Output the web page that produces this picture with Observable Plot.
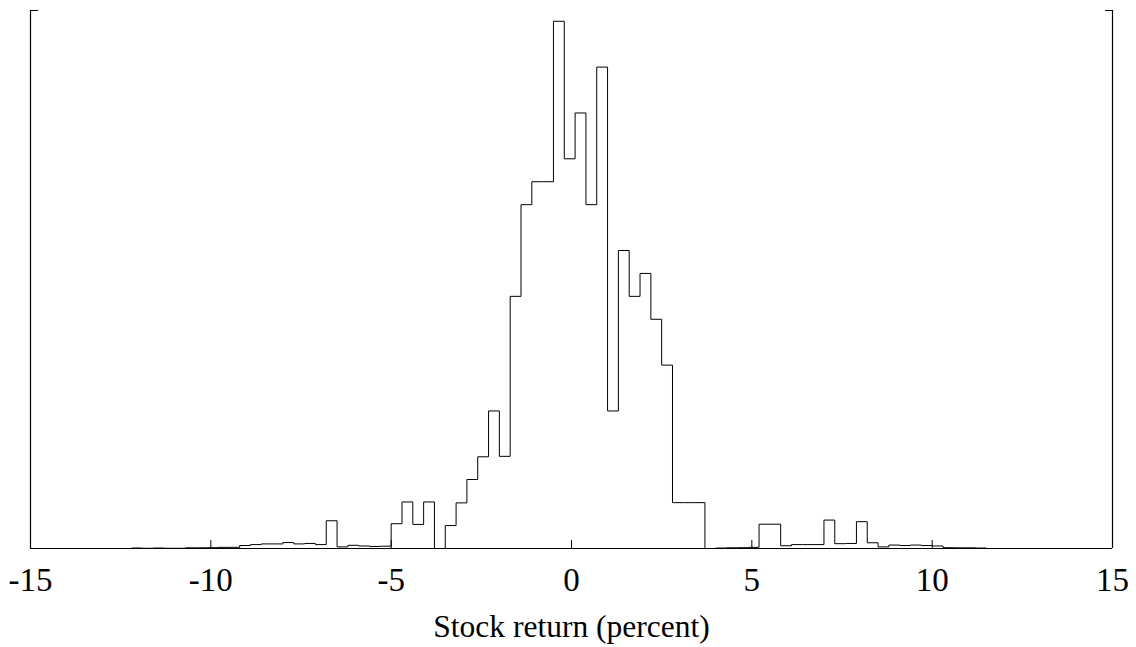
<!DOCTYPE html>
<html>
<head>
<meta charset="utf-8">
<script src="https://cdn.jsdelivr.net/npm/d3@7"></script>
<script src="https://cdn.jsdelivr.net/npm/@observablehq/plot@0.6"></script>
<style>
  html, body { margin: 0; padding: 0; background: #fff; }
  #chart svg { display: block; }
</style>
</head>
<body>
<div id="chart"></div>
<script>
// Bin left edges (last entry closes the outline)
const binEdges = [
  -12.5, -12.2, -11.9, -11.6, -11.3, -11.0, -10.7, -10.4, -10.1, -9.8, -9.5,
  -9.2, -8.9, -8.6, -8.3, -8.0, -7.7, -7.4, -7.1, -6.8, -6.5, -6.2, -5.9, -5.6, -5.3,
  -5.0, -4.7, -4.4, -4.1, -3.8, -3.5, -3.2, -2.9, -2.6, -2.3, -2.0, -1.7, -1.4, -1.1, -0.8,
  -0.5, -0.2, 0.1, 0.4, 0.7, 1.0, 1.3, 1.6, 1.9, 2.2, 2.5, 2.8, 3.1, 3.4, 3.7,
  4.0, 4.3, 4.6, 4.9, 5.2, 5.5, 5.8, 6.1, 6.4, 6.7, 7.0, 7.3, 7.6, 7.9, 8.2, 8.5,
  8.8, 9.1, 9.4, 9.7, 10.0, 10.3, 10.6, 10.9, 11.2, 11.5
];
// Bar heights (frequency)
const binHeights = [
  0, 0.02, 0.01, 0.02, 0.01, 0.01, 0.03, 0.03, 0.035, 0.05, 0.05,
  0.13, 0.17, 0.2, 0.2, 0.26, 0.2, 0.22, 0.17, 1.21, 0.07, 0.14, 0.11, 0.09, 0.1,
  1.08, 2.03, 1.05, 2.03, 0, 1.0, 1.99, 3.01, 4.0, 6.0, 4.02, 11.0, 15.0, 16.0, 16.0,
  23.0, 17.0, 19.0, 15.0, 21.0, 6.0, 13.0, 11.0, 12.0, 10.0, 8.0, 2.0, 2.0, 2.0, 0,
  0.02, 0.03, 0.035, 0.05, 1.06, 1.06, 0.12, 0.17, 0.17, 0.17, 1.24, 0.21, 0.22, 1.17, 0.25, 0.07,
  0.15, 0.13, 0.15, 0.13, 0.11, 0.035, 0.03, 0.03, 0.02, 0
];
const xTicks = [-15, -10, -5, 0, 5, 10, 15];
const xDomain = [-15, 15];
const yTop = 23.47;
const xTitle = "Stock return (percent)";

const steps = binEdges.map((x, i) => ({x, y: binHeights[i]}));

const chart = Plot.plot({
  width: 1136,
  height: 647,
  marginLeft: 30,
  marginRight: 24,
  marginTop: 10,
  marginBottom: 99,
  style: {
    fontFamily: "'Liberation Serif', 'Times New Roman', serif",
    fontSize: "33px",
    background: "white",
    color: "black",
    overflow: "visible"
  },
  x: {domain: xDomain},
  y: {domain: [0, yTop]},
  marks: [
    Plot.ruleY([0], {stroke: "black", strokeWidth: 1.2}),
    Plot.ruleX(xDomain, {y1: 0, y2: yTop, stroke: "black", strokeWidth: 1.2}),
    Plot.axisY({anchor: "left", ticks: [yTop], tickSize: 8, dx: 8, fill: "none", label: null, stroke: "black"}),
    Plot.axisY({anchor: "right", ticks: [yTop], tickSize: 8, dx: -8, fill: "none", label: null, stroke: "black"}),
    Plot.axisX({ticks: xTicks, tickSize: 8, dy: -8, fill: "none", label: null, stroke: "black"}),
    Plot.axisX({ticks: xTicks, tickSize: 0, tickPadding: 19, fontSize: 33, label: null, tickFormat: d => `${d}`, fill: "black"}),
    Plot.line(steps, {x: "x", y: "y", curve: "step-after", stroke: "black", strokeWidth: 1}),
    Plot.text([xTitle], {frameAnchor: "bottom", dy: 78, fontSize: 31.5, lineAnchor: "middle", fill: "black"})
  ]
});
document.getElementById("chart").append(chart);
</script>
</body>
</html>
